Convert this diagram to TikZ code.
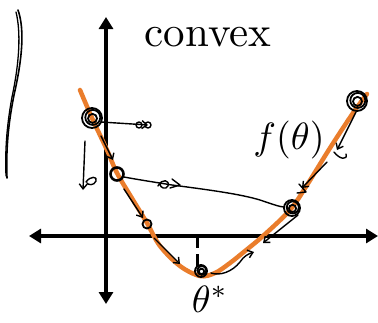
\documentclass[tikz,border=0pt]{standalone}
\usetikzlibrary{arrows.meta}
\definecolor{curveorange}{HTML}{EA7D2C}
\newcommand\scribcirc[2]{%
  \draw[scrib] (#1) circle[radius=#2];
  \draw[scrib] ($(#1)+(0.8,-0.6)$) circle[radius=0.75*#2];
  \draw[scrib] ($(#1)+(0.5,0.4)$) circle[radius=0.45*#2];
}
\usetikzlibrary{calc}
\begin{document}
\begin{tikzpicture}[x=1pt,y=-1pt,
  axis/.style={line width=3.6pt, {Triangle[length=12pt,width=14pt]}-{Triangle[length=12pt,width=14pt]}},
  pen/.style={line width=1.4pt, line cap=round, line join=round},
  penarrow/.style={pen, -{Straight Barb[length=5pt,width=8pt]}},
  scrib/.style={line width=1.8pt},
  curve/.style={curveorange, line width=4.5pt, line cap=round}]
\useasboundingbox (0,0) rectangle (378,322);
\fill[white] (0,0) rectangle (378,322);
% axes
\coordinate (yb) at (106,304);
\coordinate (yt) at (106,17);
\coordinate (xl) at (29,236);
\coordinate (xr) at (378,236);
\draw[axis] (yb) -- (yt);
\draw[axis] (xl) -- (xr);
% orange curve
\draw[curve] plot[smooth, tension=0.55] coordinates {(80,90) (92,118) (107,150) (117,173) (133,200) (147,223) (160,246) (180,266) (200,276) (215,273) (230,263) (245,251) (263,236) (290,210) (307,185) (330,148) (353,113) (367,94)};
% dashed minimiser line
\coordinate (dtop) at (197,236);
\coordinate (dbot) at (197,270);
\draw[line width=3pt, dash pattern=on 12pt off 6pt] (dtop) -- (dbot);
% left margin stroke
\draw[pen, line width=1.6pt] (18,10) .. controls (25,30) and (22,60) .. (14,95) .. controls (8,125) and (6,150) .. (7,178);
\draw[pen, line width=1.3pt] (16,12) .. controls (21,32) and (19.5,62) .. (12,97) .. controls (6.5,127) and (5,152) .. (6,176);
% points on the curve
\coordinate (c1) at (92,118);
\coordinate (c2) at (117,174);
\coordinate (c3) at (147,224);
\coordinate (c4) at (292,208);
\coordinate (c5) at (357,101);
\coordinate (cm) at (201,271);
\scribcirc{c1}{10}
\draw[line width=2.6pt] (c2) circle[radius=6.5];
\draw[line width=1.8pt] (c3) circle[radius=4.5];
\scribcirc{c4}{8}
\scribcirc{c5}{10}
\scribcirc{cm}{6}
% step from c1
\coordinate (a1) at (148,125);
\draw[penarrow] ($(c1)+(9,4)$) -- (a1);
\draw[pen] (139,125) circle[radius=3];
\draw[pen] (a1) circle[radius=3];
% down arrow
\coordinate (d1) at (85,141);
\coordinate (d2) at (83,190);
\draw[penarrow] (d1) -- (d2);
\draw[pen] (86,182) .. controls (90,176) and (98,176) .. (96,181) .. controls (94,186) and (88,185) .. (87,183);
% small marks along curve between c1 and c2
\coordinate (m1) at (101,136);
\coordinate (m2) at (113,160);
\draw[penarrow] (m1) -- (m2);
% long path from c2 to c4
\draw[pen] ($(c2)+(7,3)$) .. controls (140,180) and (160,183) .. (172,185) .. controls (210,190) and (240,194) .. (260,200) .. controls (272,204) and (280,207) .. ($(c4)+(-8,-1)$);
\draw[pen] (158,186) .. controls (162,178) and (170,180) .. (168,186) .. controls (166,190) and (160,188) .. (160,184);
\draw[pen] (172,179) -- (180,185) -- (170,188);
% arrow from c2 to c3
\coordinate (b1) at (124,189);
\coordinate (b2) at (143,218);
\draw[penarrow] (b1) -- (b2);
% arrow from c3 towards minimum
\coordinate (e1) at (154,238);
\coordinate (e2) at (180,264);
\draw[penarrow] (e1) -- (e2);
% curl from minimum to the right
\coordinate (f2) at (254,252);
\draw[penarrow] ($(cm)+(10,2)$) .. controls (220,276) and (232,272) .. (240,262) .. controls (244,256) and (248,254) .. (f2);
% arrow from c4 down-left
\coordinate (g2) at (263,243);
\draw[penarrow] ($(c4)+(6,7)$) -- (g2);
% arrows from c5 down the curve
\coordinate (h2) at (337,150);
\draw[penarrow] ($(c5)+(-1,11)$) -- (h2);
\draw[pen] (334,152) .. controls (340,160) and (348,160) .. (346,154);
\coordinate (k1) at (327,162);
\coordinate (k2) at (302,188);
\draw[penarrow] (k1) -- (k2);
\draw[pen] (299,184) -- (306,192) -- (297,193);
% labels
\node (conv) at (208,37) {\scalebox{4.3}{convex}};
\node (fth) at (289,140) {\scalebox{3.8}{$f(\theta)$}};
\node (tst) at (210,299) {\scalebox{3.8}{$\theta^*$}};
\end{tikzpicture}
\end{document}
